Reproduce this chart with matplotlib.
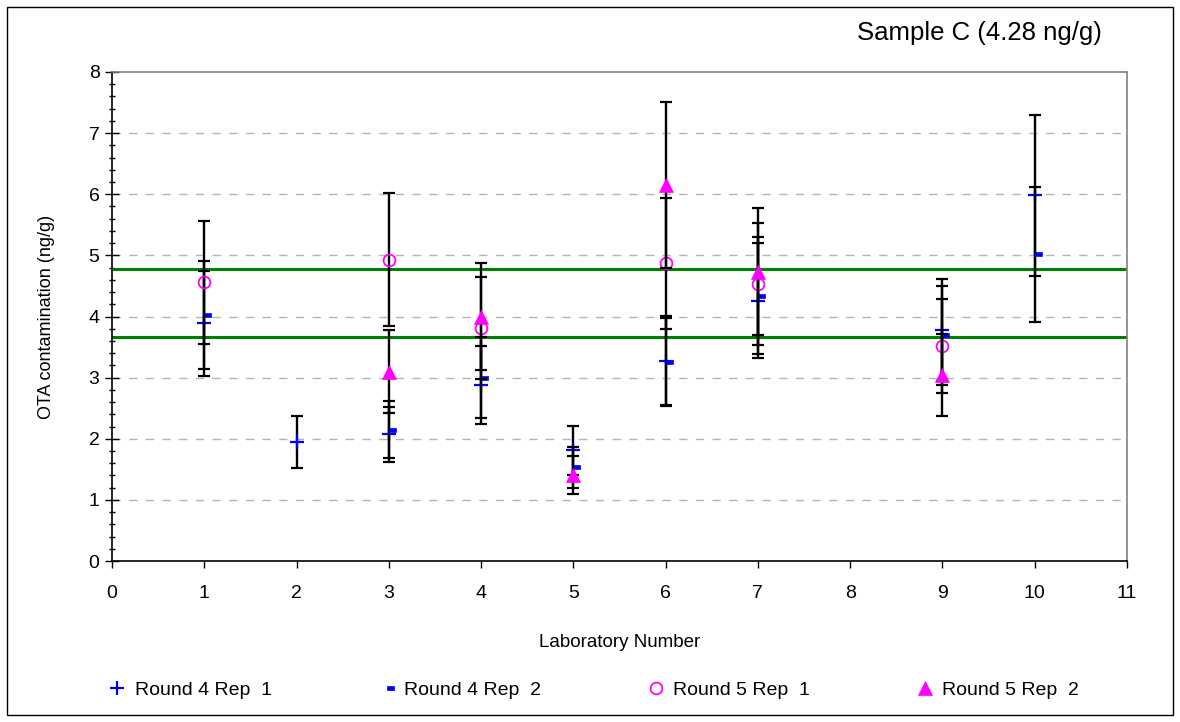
import numpy as np
import matplotlib
matplotlib.use("Agg")
import matplotlib.pyplot as plt
from matplotlib.path import Path
from matplotlib.patches import Rectangle
from matplotlib.ticker import MultipleLocator

plt.rcParams['font.family'] = ['Liberation Sans', 'DejaVu Sans']

nan = np.nan
labs = [1, 2, 3, 4, 5, 6, 7, 8, 9, 10]
r4_rep1 = [3.89, 1.95, 2.07, 2.88, 1.81, 3.28, 4.26, nan, 3.78, 5.98]
r4_rep2 = [4.02, nan, 2.15, 3.00, 1.53, 3.26, 4.34, nan, 3.69, 5.02]
r5_rep1 = [4.56, nan, 4.93, 3.81, nan, 4.87, 4.53, nan, 3.52, nan]
r5_rep2 = [nan, nan, 3.10, 4.00, 1.41, 6.15, 4.73, nan, 3.04, nan]
series_names = ["Round 4 Rep  1", "Round 4 Rep  2", "Round 5 Rep  1", "Round 5 Rep  2"]
err_pct = 0.22          # percentage error bars
limits = [4.77, 3.67]   # green acceptance lines
title = "Sample C (4.28 ng/g)"
x_ticks = list(range(0, 12))
y_ticks = list(range(0, 9))

fig = plt.figure(figsize=(11.8, 7.22), dpi=100)
ax = fig.add_axes([112/1180, 1-561/722, (1127-112)/1180, (561-72)/722])

dash_marker = Path([(0, -0.25), (1, -0.25), (1, 0.25), (0, 0.25), (0, -0.25)],
                   [Path.MOVETO, Path.LINETO, Path.LINETO, Path.LINETO, Path.CLOSEPOLY])

styles = [
    dict(marker='+', color='#0000ff', markersize=10, markeredgewidth=1.6, linestyle='none'),
    dict(marker=dash_marker, color='#0000ff', markersize=10, markeredgewidth=0.5, linestyle='none'),
    dict(marker='o', markerfacecolor='none', markeredgecolor='#ff00ff', markersize=8.5,
         markeredgewidth=1.3, linestyle='none', color='#ff00ff'),
    dict(marker='^', color='#ff00ff', markersize=10, markeredgewidth=0.5, linestyle='none'),
]

handles = []
for i, (vals, st, name) in enumerate(zip([r4_rep1, r4_rep2, r5_rep1, r5_rep2], styles, series_names)):
    v = np.array(vals, dtype=float)
    ax.errorbar(labs, v, yerr=err_pct * v, fmt='none', ecolor='black', elinewidth=1.7,
                capsize=4.6, capthick=1.6, zorder=3 + 2*i)
    h, = ax.plot(labs, v, label=name, zorder=4 + 2*i, **st)
    handles.append(h)

for lv in limits:
    ax.axhline(lv, color='#008000', lw=2.2, zorder=2)

ax.set_xlim(0, 11)
ax.set_ylim(0, 8)
ax.set_xticks(x_ticks)
ax.set_yticks(y_ticks)
ax.yaxis.set_minor_locator(MultipleLocator(0.2))
ax.tick_params(axis='y', which='major', direction='inout', length=10, width=1, labelsize=14, pad=4)
ax.tick_params(axis='y', which='minor', direction='inout', length=5, width=1)
ax.tick_params(axis='x', which='major', direction='out', length=5, width=1, labelsize=14, pad=12)

for yv in y_ticks[1:-1]:
    ax.axhline(yv, color='#b4b4b4', lw=1, linestyle=(0, (6, 6)), zorder=1)

ax.spines['left'].set_color('black')
ax.spines['bottom'].set_color('black')
ax.spines['top'].set_color('#808080')
ax.spines['right'].set_color('#808080')
for s in ax.spines.values():
    s.set_linewidth(1.2)

ax.set_ylabel("OTA contamination (ng/g)", fontsize=13, labelpad=24)
ax.set_xlabel("Laboratory Number", fontsize=13.5, labelpad=23)

fig.text(1102/1180, 1-33/722, title, ha='right', va='center', fontsize=18.5)

fig.legend(handles=handles, loc='center', bbox_to_anchor=(0.503, 1-690/722), ncol=4,
           frameon=False, fontsize=14, handlelength=1.0, handletextpad=0.4,
           columnspacing=5.4)

fig.patches.append(Rectangle((7/1180, 1-715/722), (1173-7)/1180, (715-7)/722,
                             transform=fig.transFigure, fill=False, edgecolor='black', lw=1))

fig.savefig("out.png", dpi=100)
